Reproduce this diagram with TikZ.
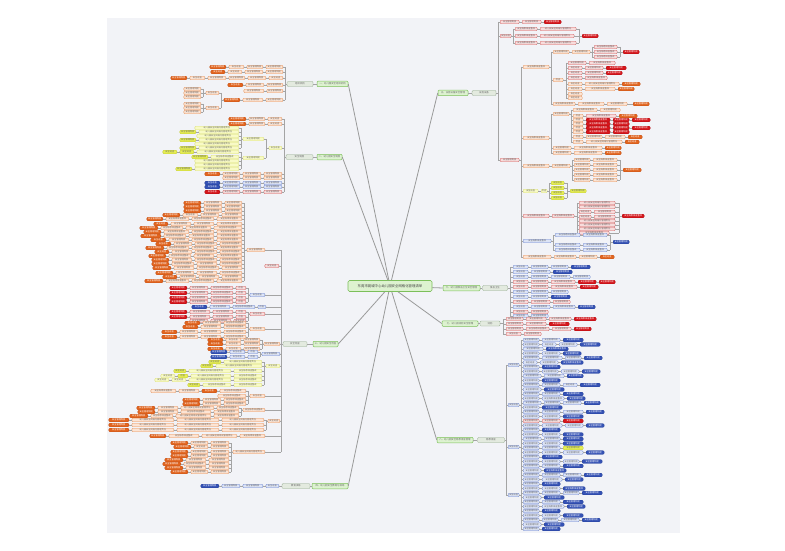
\documentclass[tikz,border=0pt]{standalone}
\usepackage{fontspec}
\newfontfamily\cjk{Noto Sans CJK SC}
\definecolor{bgC}{HTML}{F2F3F7}
\definecolor{lnC}{HTML}{A4A4A4}
\definecolor{rdC}{HTML}{9A9A9A}
\definecolor{poF}{HTML}{FCE4D4}\definecolor{poD}{HTML}{E4915A}
\definecolor{doF}{HTML}{E2651F}\definecolor{doD}{HTML}{C4521A}
\definecolor{rdF}{HTML}{D6161C}\definecolor{rdD}{HTML}{B01015}
\definecolor{pkF}{HTML}{F8DCDC}\definecolor{pkD}{HTML}{D06060}
\definecolor{blF}{HTML}{3552B5}\definecolor{blD}{HTML}{24409A}
\definecolor{lbF}{HTML}{DDE4F6}\definecolor{lbD}{HTML}{6E86CF}
\definecolor{yeF}{HTML}{E6EE55}\definecolor{yeD}{HTML}{C2CA30}
\definecolor{pyF}{HTML}{F8FAC6}\definecolor{pyD}{HTML}{DADF78}
\definecolor{gnF}{HTML}{DDF2D0}\definecolor{gnD}{HTML}{7CBF5A}
\definecolor{ggF}{HTML}{E3EADF}\definecolor{ggD}{HTML}{8FA888}
\definecolor{txd}{HTML}{6A6A6A}
\tikzset{
 bxs/.style={draw, rounded corners=1pt, line width=0.35pt, minimum height=3.6pt, inner sep=0pt, font=\cjk\fontsize{2.2}{2.6}\selectfont},
 po/.style={bxs, fill=poF, draw=poD, text=txd},
 do/.style={bxs, fill=doF, draw=doD, text=white},
 rd/.style={bxs, fill=rdF, draw=rdD, text=white},
 pk/.style={bxs, fill=pkF, draw=pkD, text=txd},
 bl/.style={bxs, fill=blF, draw=blD, text=white},
 lb/.style={bxs, fill=lbF, draw=lbD, text=txd},
 ye/.style={bxs, fill=yeF, draw=yeD, text=txd},
 py/.style={bxs, fill=pyF, draw=pyD, text=txd},
 gg/.style={bxs, fill=ggF, draw=ggD, text=txd, minimum height=5pt, font=\cjk\fontsize{2.4}{2.8}\selectfont},
 gn/.style={bxs, fill=gnF, draw=gnD, text=txd, minimum height=5.5pt, line width=0.5pt, font=\cjk\fontsize{2.4}{2.8}\selectfont},
 ctr/.style={bxs, fill=gnF, draw=gnD, text=black!75, minimum height=11pt, minimum width=84pt, line width=0.6pt, rounded corners=1.5pt, font=\cjk\fontsize{3.4}{4}\selectfont},
 ln/.style={draw=lnC, line width=0.4pt},
 rad/.style={draw=rdC, line width=0.8pt},
}
\newcommand\T{\ifdim\rw pt<11pt 检查\else\ifdim\rw pt<16pt 安全巡查\else\ifdim\rw pt<22pt 安全管理制度\else\ifdim\rw pt<32pt 安全隐患排查整改\else 幼儿园安全网格化管理责任\fi\fi\fi\fi}
\newcommand\RR[4]{%
  \xdef\rcx{#2}%
  \foreach \rw/\rs [count=\rk] in {#4} {%
    \node[\rs, minimum width=\rw pt, anchor=west] (#1-\rk) at (\rcx,#3) {\T};%
    \ifnum\rk>1 \pgfmathtruncatemacro\rpk{\rk-1}\draw[ln] (#1-\rpk.east) -- (#1-\rk.west);\fi
    \pgfmathsetmacro\rtmp{\rcx+\rw+3}\xdef\rcx{\rtmp}%
  }%
}
\newcommand\RL[4]{%
  \xdef\rcx{#2}%
  \foreach \rw/\rs [count=\rk] in {#4} {%
    \node[\rs, minimum width=\rw pt, anchor=east] (#1-\rk) at (\rcx,#3) {\T};%
    \ifnum\rk>1 \pgfmathtruncatemacro\rpk{\rk-1}\draw[ln] (#1-\rpk.west) -- (#1-\rk.east);\fi
    \pgfmathsetmacro\rtmp{\rcx-\rw-3}\xdef\rcx{\rtmp}%
  }%
}
\newcommand\RRb[5]{\RR{#1}{#3}{#4}{#5}\coordinate (#1-b) at (#2,#4);\draw[ln] (#1-b) -- (#1-1.west);}
\newcommand\RLb[5]{\RL{#1}{#3}{#4}{#5}\coordinate (#1-b) at (#2,#4);\draw[ln] (#1-b) -- (#1-1.east);}
\newcommand\BK[4]{\coordinate (#1-t) at (#2,#3);\coordinate (#1-u) at (#2,#4);\draw[ln] (#1-t) -- (#1-u);}
\newcommand\SE[2]{\draw[ln] (#1.east) -- (#1.east -| #2);}
\newcommand\SW[2]{\draw[ln] (#1.west) -- (#1.west -| #2);}
\begin{document}
\begin{tikzpicture}[x=1pt,y=-1pt]
\useasboundingbox (0,0) rectangle (785,551);
\fill[white] (0,0) rectangle (785,551);
\fill[bgC] (107,18) rectangle (680,533);

% ---------- centre and main branches ----------
\node[ctr] (c) at (390,286) {东莞市莞城中心幼儿园安全网格化管理清单};
\node[gn, minimum width=31pt] (gL1) at (332.5,84) {一、幼儿园安全组织机构};
\node[gn, minimum width=25pt] (gL2) at (329.5,157) {二、幼儿园安全制度};
\node[gn, minimum width=25pt] (gL3) at (325.5,344) {三、幼儿园安全检查};
\node[gn, minimum width=36pt] (gL4) at (330,486) {四、幼儿园安全教育与演练};
\node[gn, minimum width=30pt] (gR1) at (453,93) {五、设施设备安全管理};
\node[gn, minimum width=37pt] (gR2) at (461.5,288) {六、幼儿园食品卫生安全管理};
\node[gn, minimum width=36pt] (gR3) at (460,323.5) {七、幼儿园消防安全管理};
\node[gn, minimum width=36pt] (gR4) at (455,440) {八、幼儿园安全隐患排查管理};
\foreach \g in {gL1,gL2,gL3,gL4} \draw[rad] (c) -- (\g.east);
\foreach \g in {gR1,gR2,gR3,gR4} \draw[rad] (c) -- (\g.west);

\node[gg, minimum width=26pt] (sL1) at (300,84) {组织机构};
\node[gg, minimum width=27pt] (sL2) at (299.5,157) {安全制度};
\node[gg, minimum width=24pt] (sL3) at (295,344) {安全检查};
\node[gg, minimum width=28pt] (sL4) at (296,486) {教育演练};
\node[gg, minimum width=24pt] (sR1) at (484,93) {设施设备};
\node[gg, minimum width=25pt] (sR2) at (495,288) {食品卫生};
\node[gg, minimum width=20pt] (sR3) at (490,323.5) {消防};
\node[gg, minimum width=27pt] (sR4) at (491,440) {隐患排查};
\draw[ln] (sL1) -- (gL1); \draw[ln] (sL2) -- (gL2); \draw[ln] (sL3) -- (gL3); \draw[ln] (sL4) -- (gL4);
\draw[ln] (gR1) -- (sR1); \draw[ln] (gR2) -- (sR2); \draw[ln] (gR3) -- (sR3); \draw[ln] (gR4) -- (sR4);

% ---------- L1 ----------
\BK{K1}{285}{67}{100}
\SW{sL1}{K1-t}
\RLb{l1a}{285}{283}{67}{17/po,16/po,15/po,16/do}
\RLb{l1b}{285}{283}{72}{17/po,18/po,14/po,14/do}
\RLb{l1c}{285}{283}{78}{14/po,18/po,16/po,18/po,15/po,16/do}
\RLb{l1d}{285}{283}{85}{16/po,18/po,15/do}
\RLb{l1e}{285}{283}{91}{16/po,20/po}
\RLb{l1f}{285}{283}{100}{17/po,20/po,16/do}
\BK{K1b}{221}{93}{108}
\draw[ln] (l1f-3.west) -- (l1f-3.west -| K1b-t);
\RLb{l1g}{221}{219}{93}{13/po}
\RLb{l1h}{221}{219}{108}{13/po}
\BK{K1c}{203}{89}{97}
\draw[ln] (l1g-1.west) -- (l1g-1.west -| K1c-t);
\RLb{l1i}{203}{201}{89}{17/po}
\RLb{l1j}{203}{201}{93}{17/po}
\RLb{l1k}{203}{201}{97}{17/po}
\BK{K1d}{203}{104}{112}
\draw[ln] (l1h-1.west) -- (l1h-1.west -| K1d-t);
\RLb{l1m}{203}{201}{104}{17/po}
\RLb{l1n}{203}{201}{108}{17/po}
\RLb{l1o}{203}{201}{112}{17/po}

% ---------- L2 ----------
\BK{K2}{284}{119}{192}
\SW{sL2}{K2-t}
\RLb{l2a}{284}{282}{119}{14/po,16/po,17/do}
\RLb{l2b}{284}{282}{124}{14/po,16/po,17/do}
\RLb{l2y}{284}{282}{148}{13/py}
\BK{K2y}{266}{139}{158}
\draw[ln] (l2y-1.west) -- (l2y-1.west -| K2y-t);
\RLb{l2p}{266}{264}{139}{21/py}
\RLb{l2q}{266}{264}{158}{21/py}
\BK{K2p}{241}{128}{148}
\draw[ln] (l2p-1.west) -- (l2p-1.west -| K2p-t);
\RLb{l2p1}{241}{239}{128}{44/py}
\RLb{l2p2}{241}{239}{132}{40/py,16/ye}
\RLb{l2p3}{241}{239}{136}{42/py}
\RLb{l2p4}{241}{239}{140}{40/py,16/ye}
\RLb{l2p5}{241}{239}{144}{44/py}
\RLb{l2p6}{241}{239}{148}{40/py,16/ye}
\BK{K2q}{241}{152}{169}
\draw[ln] (l2q-1.west) -- (l2q-1.west -| K2q-t);
\RLb{l2q1}{241}{239}{152}{42/py,14/ye,14/ye}
\RLb{l2q2}{241}{239}{157}{28/py,16/ye}
\RLb{l2q3}{241}{239}{161}{44/py}
\RLb{l2q4}{241}{239}{165}{44/py}
\RLb{l2q5}{241}{239}{169}{44/py,16/ye}
\RLb{l2c}{284}{282}{174}{18/po,18/po,17/po,15/do}
\RLb{l2d}{284}{282}{178}{18/po,18/po,17/po}
\RLb{l2e}{284}{282}{183}{18/lb,18/lb,17/lb,15/bl}
\RLb{l2f}{284}{282}{187}{18/lb,18/lb,17/lb,15/bl}
\RLb{l2g}{284}{282}{192}{18/pk,18/pk,17/pk,15/rd}

% ---------- L3 ----------
\BK{K3}{281}{250}{452}
\SW{sL3}{K3-t}
\RLb{l3L}{281}{265}{250}{18/po}
\BK{K3a}{244}{203}{281}
\draw[ln] (l3L-1.west) -- (l3L-1.west -| K3a-t);
\RLb{m01}{244}{242}{203}{17/po,18/po,17/do}
\RLb{m02}{244}{242}{207}{17/po,18/po,17/do}
\RLb{m03}{244}{242}{211}{17/po,18/po,17/do}
\RLb{m04}{244}{242}{215}{20/po,18/po,15/po,17/do}
\RLb{m05}{244}{242}{219}{25/po,22/po,23/po,16/do}
\RLb{m06}{244}{242}{224}{25/po,20/po,20/po,14/do}
\RLb{m07}{244}{242}{228}{28/po,25/po,22/po,18/do}
\RLb{m08}{244}{242}{232}{25/po,22/po,25/po,17/do}
\RLb{m09}{244}{242}{236}{25/po,25/po,22/po,20/do}
\RLb{m10}{244}{242}{240}{25/po,22/po,20/po,15/do}
\RLb{m11}{244}{242}{244}{22/po,22/po,18/po,15/do}
\RLb{m12}{244}{242}{248}{25/po,22/po,22/po,18/do}
\RLb{m13}{244}{242}{252}{22/po,22/po,20/po,14/do}
\RLb{m14}{244}{242}{256}{25/po,20/po,22/po,17/do}
\RLb{m15}{244}{242}{260}{22/po,22/po,20/po,17/do}
\RLb{m16}{244}{242}{264}{22/po,20/po,22/po,17/do}
\RLb{m17}{244}{242}{268}{20/po,22/po,20/po,18/do}
\RLb{m18}{244}{242}{273}{22/po,20/po,18/po,17/do}
\RLb{m19}{244}{242}{277}{20/po,20/po,16/po,14/do}
\RLb{m20}{244}{242}{281}{25/po,22/po,23/po,18/do}
\RLb{l3a}{281}{279}{266}{14/pk}
\RLb{l3b}{281}{265}{295}{15/lb}
\BK{K3b}{248}{288}{302}
\draw[ln] (l3b-1.west) -- (l3b-1.west -| K3b-t);
\RLb{n01}{248}{246}{288}{10/pk,22/pk,18/pk,17/rd}
\RLb{n02}{248}{246}{293}{10/pk,22/pk,18/pk,17/rd}
\RLb{n03}{248}{246}{298}{10/pk,22/pk,18/pk,17/rd}
\RLb{n04}{248}{246}{302}{10/pk,22/pk,18/pk,17/rd}
\RLb{l3c}{281}{266}{307}{8/lb,22/lb,20/lb,15/bl}
\RLb{l3d}{281}{265}{314}{15/pk}
\BK{K3d}{248}{312}{321}
\draw[ln] (l3d-1.west) -- (l3d-1.west -| K3d-t);
\RLb{n05}{248}{246}{312}{10/pk,20/pk,20/pk,17/rd}
\RLb{n06}{248}{246}{317}{10/pk,20/pk,20/pk,17/rd}
\RLb{n07}{248}{246}{321}{12/pk,20/pk,18/pk}
\RLb{l3e}{281}{265}{329}{15/po}
\BK{K3e}{248}{323}{337}
\draw[ln] (l3e-1.west) -- (l3e-1.west -| K3e-t);
\RLb{n08}{248}{246}{323}{22/po,18/po,15/do}
\RLb{n09}{248}{246}{327}{22/po,20/po,15/do}
\RLb{n10}{248}{246}{332}{22/po,20/po,18/po,15/do}
\RLb{n11}{248}{246}{337}{22/po,20/po,18/po,15/do}
\RLb{l3f}{281}{280}{344}{16/po}
\BK{K3f}{262}{340}{349}
\draw[ln] (l3f-1.west) -- (l3f-1.west -| K3f-t);
\RLb{n12}{262}{260}{340}{16/po,15/po,15/do}
\RLb{n13}{262}{260}{344}{16/po,15/po,15/do}
\RLb{n14}{262}{260}{349}{16/po,15/po,15/do}
\RLb{l3g}{281}{280}{354}{18/lb}
\BK{K3g}{260}{352}{357}
\draw[ln] (l3g-1.west) -- (l3g-1.west -| K3g-t);
\RLb{n15}{260}{258}{352}{10/lb,15/lb,16/bl}
\RLb{n16}{260}{258}{357}{10/lb,15/lb,16/bl}
\RLb{l3h}{281}{280}{366}{14/py}
\BK{K3h}{264}{362}{385}
\draw[ln] (l3h-1.west) -- (l3h-1.west -| K3h-t);
\RLb{n17}{264}{262}{362}{38/py,12/ye}
\RLb{n18}{264}{262}{366}{46/py,12/ye}
\RLb{n19}{264}{262}{371}{28/py,42/py,12/ye}
\RLb{n20}{264}{262}{376}{28/py,40/py,10/ye,14/py}
\RLb{n21}{264}{262}{380}{28/py,42/py,14/py,14/py}
\RLb{n22}{264}{262}{385}{28/py,28/py,12/ye}
\RLb{l3i}{281}{265}{396}{15/po}
\BK{K3i}{248}{391}{404}
\draw[ln] (l3i-1.west) -- (l3i-1.west -| K3i-t);
\RLb{n23}{248}{246}{391}{26/po,15/do,20/po,25/po}
\RLb{n24}{248}{246}{396}{28/po}
\RLb{n25}{248}{246}{400}{22/po,18/po,17/do}
\RLb{n26}{248}{246}{404}{22/po,18/po,17/do}
\RLb{l3j}{281}{265}{410}{22/po}
\BK{K3j}{241}{408}{416}
\draw[ln] (l3j-1.west) -- (l3j-1.west -| K3j-t);
\RLb{n27}{241}{239}{408}{22/po,33/po,20/po,18/do}
\RLb{n28}{241}{239}{412}{25/po,30/po,20/po,17/do}
\RLb{n29}{241}{239}{416}{25/po,35/po,22/po,18/do}
\RLb{l3k}{281}{280}{421}{12/po}
\BK{K3k}{266}{420}{430}
\draw[ln] (l3k-1.west) -- (l3k-1.west -| K3k-t);
\RLb{n30}{266}{264}{420}{42/po,42/po,42/po,20/do}
\RLb{n31}{266}{264}{425}{42/po,42/po,42/po,20/do}
\RLb{n32}{266}{264}{430}{42/po,42/po,42/po,20/do}
\RLb{l3l}{281}{265}{436}{25/po,35/po,30/po,16/do}
\RLb{l3m}{281}{265}{452}{32/po}
\BK{K3m}{231}{443}{472}
\draw[ln] (l3m-1.west) -- (l3m-1.west -| K3m-t);
\RLb{n33}{231}{229}{443}{18/po,17/po,17/do}
\RLb{n34}{231}{229}{447}{18/po,14/po,17/do}
\RLb{n35}{231}{229}{452}{18/po,17/po,17/do}
\RLb{n36}{231}{229}{456}{18/po,17/po,17/do}
\RLb{n37}{231}{229}{460}{20/po,20/po,18/do}
\RLb{n38}{231}{229}{464}{20/po,22/po,18/do}
\RLb{n39}{231}{229}{468}{20/po,20/po,18/do}
\RLb{n40}{231}{229}{472}{18/po,17/po,17/do}

% ---------- L4 ----------
\RL{l4}{279}{486}{13/lb,20/lb,18/lb,18/bl}
\draw[ln] (sL4) -- (l4-1);

% ---------- R1 ----------
\BK{K4}{498}{22}{160}
\SE{sR1}{K4-t}
\RRb{rA}{498}{500}{22}{19/pk,19/pk,17/rd}
\RRb{rB}{498}{500}{36}{11/pk}
\BK{K4b}{513}{29}{43}
\draw[ln] (rB-1.east) -- (rB-1.east -| K4b-t);
\RRb{rB1}{513}{515}{29}{22/pk,36/pk}
\RRb{rB2}{513}{515}{36}{22/pk,34/pk}
\RRb{rB3}{513}{515}{43}{22/pk,36/pk}
\BK{K4c}{579}{29}{43}
\SE{rB1-2}{K4c-t}\SE{rB2-2}{K4c-t}\SE{rB3-2}{K4c-t}
\RRb{rBx}{579}{582}{36}{16/rd}
\RRb{rC}{498}{500}{160}{19/pk}
\BK{K5}{521}{67}{257}
\draw[ln] (rC-1.east) -- (rC-1.east -| K5-t);
% C1
\RRb{c1}{521}{523}{67}{26/po}
\BK{K6}{551}{52}{104}
\SE{c1-1}{K6-t}
\RRb{c1a}{551}{553}{52}{16/po,18/po}
\BK{K7}{592}{47}{57}
\SE{c1a-2}{K7-t}
\RRb{c1a1}{592}{594}{47}{23/pk}
\RRb{c1a2}{592}{594}{52}{23/pk}
\RRb{c1a3}{592}{594}{57}{23/pk}
\BK{K8}{620}{47}{57}
\SE{c1a1-1}{K8-t}\SE{c1a2-1}{K8-t}\SE{c1a3-1}{K8-t}
\RRb{c1r}{620}{623}{52}{16/rd}
\RRb{c1b}{551}{553}{80}{10/po}
\BK{K9}{566}{63}{98}
\SE{c1b-1}{K9-t}
\RRb{c1b1}{566}{568}{63}{18/pk,26/pk}
\RRb{c1b2}{566}{568}{68}{14/pk,18/pk,20/rd}
\RRb{c1b3}{566}{568}{73}{14/pk,18/pk,16/rd}
\RRb{c1b4}{566}{568}{78}{14/pk,22/pk}
\RRb{c1b5}{566}{568}{84}{14/po,34/po,18/do}
\RRb{c1b6}{566}{568}{89}{14/po,30/po,16/do}
\RRb{c1b7}{566}{568}{94}{14/po}
\RRb{c1b8}{566}{568}{98}{14/po}
\RRb{c1c}{551}{553}{104}{22/po,26/po,20/po}
\RRb{c1cx}{630}{633}{104}{16/do}
\SE{c1c-3}{c1cx-b}
% C2
\RRb{c2}{521}{523}{138}{26/po}
\BK{K11}{551}{114}{153}
\SE{c2-1}{K11-t}
\RRb{c2a}{551}{553}{114}{16/po}
\BK{K12}{571}{110}{142}
\SE{c2a-1}{K12-t}
\RRb{c2a1}{571}{573}{110}{24/po,20/po}
\RRb{c2a2}{571}{573}{116}{10/po,30/pk,18/do}
\RRb{c2a3}{571}{573}{120}{10/po,24/rd,16/rd,18/rd}
\RRb{c2a4}{571}{573}{124}{10/po,24/rd,16/rd}
\RRb{c2a5}{571}{573}{128}{10/po,24/rd,16/rd,18/rd}
\RRb{c2a6}{571}{573}{132}{10/po,24/rd,16/rd}
\RRb{c2a7}{571}{573}{137}{10/po,16/po,20/po,14/do}
\RRb{c2a8}{571}{573}{142}{10/po,36/po,14/do}
\RRb{c2b}{551}{553}{148}{18/po,28/po,16/do}
\RRb{c2c}{551}{553}{153}{18/po,28/po,16/do}
% C3
\RRb{c3}{521}{523}{166}{26/po,18/po}
\BK{K13}{572}{160}{180}
\SE{c3-2}{K13-t}
\RRb{c3a}{572}{574}{160}{16/po,24/po}
\RRb{c3b}{572}{574}{165}{16/po,24/po}
\RRb{c3c}{572}{574}{170}{16/po,24/po}
\RRb{c3d}{572}{574}{175}{16/po,24/po}
\RRb{c3e}{572}{574}{180}{16/po,24/po}
\BK{K14}{620}{160}{180}
\SE{c3a-2}{K14-t}\SE{c3b-2}{K14-t}\SE{c3c-2}{K14-t}\SE{c3d-2}{K14-t}\SE{c3e-2}{K14-t}
\RRb{c3x}{620}{623}{170}{18/do}
% C4
\RRb{c4}{521}{523}{191}{15/py,6/py}
\BK{K15}{549}{183}{198}
\SE{c4-2}{K15-t}
\RRb{c4a}{549}{551}{183}{13/ye}
\RRb{c4b}{549}{551}{188}{13/ye}
\RRb{c4c}{549}{551}{193}{13/ye}
\RRb{c4d}{549}{551}{198}{13/ye}
\BK{K16}{567}{183}{198}
\SE{c4a-1}{K16-t}\SE{c4b-1}{K16-t}\SE{c4c-1}{K16-t}\SE{c4d-1}{K16-t}
\RRb{c4x}{567}{570}{191}{16/ye}
% C5
\RRb{c5}{521}{523}{216}{26/pk,22/pk}
\BK{K17}{577}{203}{233}
\SE{c5-2}{K17-t}
\RRb{c5a}{577}{579}{203}{36/pk}
\RRb{c5b}{577}{579}{207}{36/pk}
\RRb{c5c}{577}{579}{212}{12/pk,21/pk}
\RRb{c5d}{577}{579}{217}{12/pk,21/pk}
\RRb{c5e}{577}{579}{221}{36/pk}
\RRb{c5f}{577}{579}{225}{36/pk}
\RRb{c5g}{577}{579}{229}{36/pk}
\RRb{c5h}{577}{579}{233}{30/pk}
\BK{K18}{619}{203}{233}
\SE{c5a-1}{K18-t}\SE{c5b-1}{K18-t}\SE{c5c-2}{K18-t}\SE{c5d-2}{K18-t}\SE{c5e-1}{K18-t}\SE{c5f-1}{K18-t}\SE{c5g-1}{K18-t}\SE{c5h-1}{K18-t}
\RRb{c5x}{619}{622}{216}{22/rd}
% C6
\RRb{c6}{521}{523}{241}{28/lb}
\BK{K19}{553}{235}{250}
\SE{c6-1}{K19-t}
\RRb{c6a}{553}{555}{235}{25/lb,24/lb}
\RRb{c6b}{553}{555}{245}{25/lb,24/lb}
\RRb{c6c}{553}{555}{250}{25/lb,24/lb}
\BK{K20}{610}{235}{250}
\SE{c6a-2}{K20-t}\SE{c6b-2}{K20-t}\SE{c6c-2}{K20-t}
\RRb{c6x}{610}{613}{242}{16/bl}
% C7
\RRb{c7}{521}{523}{257}{28/po,22/po,18/po,14/do}

% ---------- R2 ----------
\BK{K21}{510}{267}{316}
\SE{sR2}{K21-t}
\RRb{s01}{510}{513}{267}{15/lb,17/lb,17/lb,19/bl}
\RRb{s02}{510}{513}{272}{15/lb,19/lb,19/bl}
\RRb{s03}{510}{513}{277}{15/lb,17/lb,19/lb,17/lb}
\RRb{s04}{510}{513}{282}{15/pk,17/pk,24/pk,18/rd,16/rd}
\RRb{s05}{510}{513}{287}{15/pk,17/pk,26/pk,18/rd}
\RRb{s06}{510}{513}{292}{15/lb,17/lb,17/lb}
\RRb{s07}{510}{513}{297}{15/lb,17/lb,19/bl}
\RRb{s08}{510}{513}{302}{15/pk,19/pk,17/pk}
\RRb{s09}{510}{513}{307}{15/lb,19/lb,22/lb,17/bl}
\RRb{s10}{510}{513}{312}{15/pk,17/pk}
\RRb{s11}{510}{513}{316}{15/lb,17/lb}

% ---------- R3 ----------
\BK{K22}{503}{319}{334}
\SE{sR3}{K22-t}
\RRb{t01}{503}{506}{319}{17/pk,20/pk,22/pk,22/rd}
\RRb{t02}{503}{506}{324}{17/pk,20/pk,20/rd}
\RRb{t03}{503}{506}{329}{17/pk,23/pk,19/pk,17/rd}
\RRb{t04}{503}{506}{334}{15/pk,17/pk}

% ---------- R4 ----------
\BK{K23}{506}{365}{495}
\SE{sR4}{K23-t}
\BK{Ka}{521}{340}{529}
\RRb{Ra}{506}{508}{365}{11/lb}
\RRb{Rb}{506}{508}{405}{11/lb}
\RRb{Rc}{506}{508}{447}{11/lb}
\RRb{Rd}{506}{508}{495}{11/lb}
\SE{Ra-1}{Ka-t}\SE{Rb-1}{Ka-t}\SE{Rc-1}{Ka-t}\SE{Rd-1}{Ka-t}
\RRb{u01}{521}{523}{340}{16/lb,18/lb,20/bl}
\RRb{u02}{521}{523}{344.5}{16/lb,14/lb,18/lb,20/bl}
\RRb{u03}{521}{523}{349}{20/lb,22/bl}
\RRb{u04}{521}{523}{353.5}{16/lb,18/lb,18/bl}
\RRb{u05}{521}{523}{358}{16/lb,20/lb,16/lb,18/bl}
\RRb{u06}{521}{523}{362.5}{14/lb,18/lb,22/bl}
\RRb{u07}{521}{523}{367}{16/lb,18/bl}
\RRb{u08}{521}{523}{371.5}{16/lb,16/lb,18/lb,18/bl}
\RRb{u09}{521}{523}{376}{18/lb,20/lb,16/bl}
\RRb{u10}{521}{523}{380.5}{16/lb,18/bl}
\RRb{u11}{521}{523}{385}{16/lb,18/lb,14/lb,20/bl}
\RRb{u12}{521}{523}{389.5}{18/lb,20/bl}
\RRb{u13}{521}{523}{394}{16/lb,18/lb,20/bl}
\RRb{u14}{521}{523}{398.5}{16/lb,22/lb,18/bl}
\RRb{u15}{521}{523}{403}{18/lb,16/lb,18/lb,16/bl}
\RRb{u16}{521}{523}{407.5}{16/lb,20/bl}
\RRb{u17}{521}{523}{412}{16/lb,18/lb,20/lb,18/bl}
\RRb{u18}{521}{523}{416.5}{16/lb,18/lb,20/bl}
\RRb{u19}{521}{523}{421}{16/pk,18/pk,20/rd}
\RRb{u20}{521}{523}{425.5}{16/lb,20/lb,18/lb,18/bl}
\RRb{u21}{521}{523}{430}{16/lb,18/bl}
\RRb{u22}{521}{523}{434.5}{16/lb,18/lb,20/bl}
\RRb{u23}{521}{523}{439}{18/lb,16/lb,20/bl}
\RRb{u24}{521}{523}{443.5}{16/lb,18/lb,20/bl}
\RRb{u25}{521}{523}{448}{16/lb,18/lb,20/ye}
\RRb{u26}{521}{523}{452.5}{16/lb,18/lb,20/lb,18/bl}
\RRb{u27}{521}{523}{457}{16/lb,20/bl}
\RRb{u28}{521}{523}{461.5}{16/lb,18/lb,16/lb,20/bl}
\RRb{u29}{521}{523}{466}{16/lb,18/lb,20/bl}
\RRb{u30}{521}{523}{470.5}{18/lb,22/bl}
\RRb{u31}{521}{523}{475}{16/lb,18/lb,18/lb,18/bl}
\RRb{u32}{521}{523}{479.5}{16/lb,20/lb,18/bl}
\RRb{u33}{521}{523}{484}{16/lb,18/bl}
\RRb{u34}{521}{523}{488.5}{16/lb,18/lb,22/bl}
\RRb{u35}{521}{523}{493}{16/lb,18/lb,16/lb,20/bl}
\RRb{u36}{521}{523}{497.5}{18/lb,20/bl}
\RRb{u37}{521}{523}{502}{16/lb,18/lb,20/bl}
\RRb{u38}{521}{523}{506.5}{16/lb,22/lb,18/bl}
\RRb{u39}{521}{523}{511}{16/lb,18/bl}
\RRb{u40}{521}{523}{515.5}{16/lb,18/lb,20/bl}
\RRb{u41}{521}{523}{520}{16/lb,16/lb,18/lb,18/bl}
\RRb{u42}{521}{523}{524.5}{18/lb,20/bl}
\RRb{u43}{521}{523}{529}{16/lb,18/bl}
\end{tikzpicture}
\end{document}
